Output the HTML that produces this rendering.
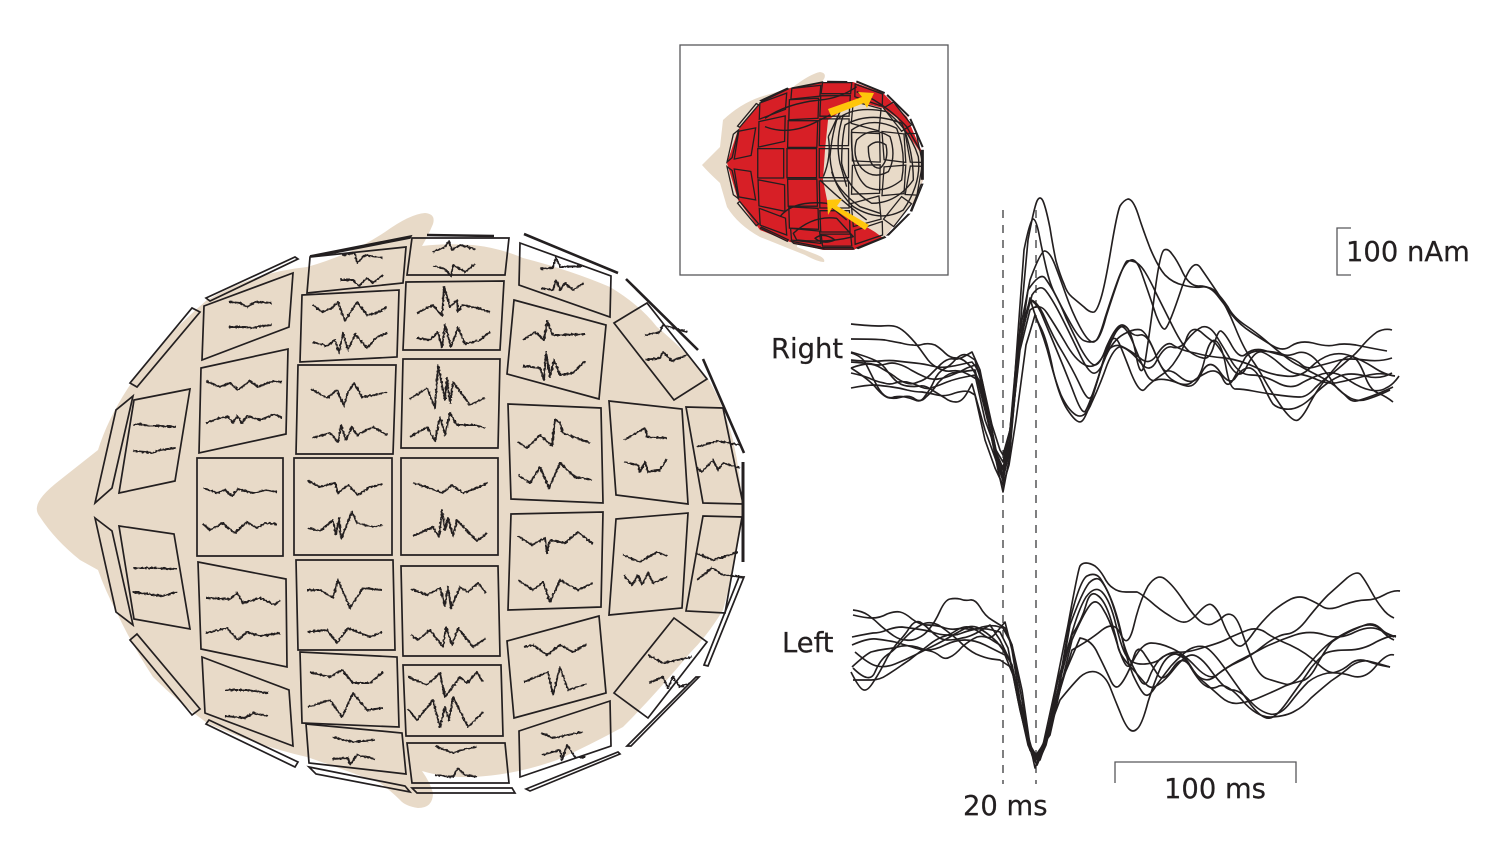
<!DOCTYPE html>
<html><head><meta charset="utf-8"><style>
html,body{margin:0;padding:0;background:#fff}
svg{display:block}
text{font-family:"DejaVu Sans","Liberation Sans",sans-serif;font-size:27.4px;fill:#231f20;stroke:#231f20;stroke-width:.25}
#panels polygon{fill:none;stroke:#231f20;stroke-width:var(--w,1.7);stroke-linejoin:miter;vector-effect:non-scaling-stroke}
#panels line{stroke:#231f20;stroke-width:var(--t,2.6);vector-effect:non-scaling-stroke}
.sq polyline{fill:none;stroke:#231f20;stroke-width:1.9;stroke-linejoin:round}
.wave path{fill:none;stroke:#231f20;stroke-width:1.65;stroke-linejoin:round;stroke-linecap:butt}
.ct path,.ct polyline{fill:none;stroke:#231f20;stroke-width:1.4;vector-effect:non-scaling-stroke;stroke-linejoin:round}
</style></head><body>
<svg width="1508" height="850" viewBox="0 0 1508 850" xmlns="http://www.w3.org/2000/svg">
<defs>
<filter id="r" filterUnits="userSpaceOnUse" x="0" y="0" width="1508" height="850" color-interpolation-filters="sRGB">
<feTurbulence type="fractalNoise" baseFrequency="0.45" numOctaves="1" seed="4"/>
<feDisplacementMap in="SourceGraphic" scale="3.2" xChannelSelector="R" yChannelSelector="G"/>
</filter>
<g id="panels">
<polygon points="95,503 116,410 133,396 112,488"/>
<polygon points="119,493 134,400 190,389 175,481"/>
<polygon points="130,383 192,308 200,312 137,387"/>
<polygon points="206,298 295,257 298,259 210,301"/>
<polygon points="204,306 293,273 289,327 202,360"/>
<polygon points="201,368 288,349 286,434 199,453"/>
<polygon points="197,458 283,458 283,556 197,556"/>
<polygon points="298,365 396,365 393,454 296,454"/>
<polygon points="294,458 392,458 392,555 294,555"/>
<polygon points="302,295 399,290 397,357 300,362"/>
<polygon points="307,293 310,257 406,247 403,283"/>
<polygon points="310,256 411,236 410,238 318,256"/>
<polygon points="412,238 509,238 505,275 407,275"/>
<line x1="427" y1="235" x2="494" y2="236"/>
<polygon points="406,282 504,281 500,350 403,350"/>
<polygon points="403,359 500,359 498,448 401,448"/>
<polygon points="401,458 498,458 498,555 401,555"/>
<polygon points="520,243 611,276 610,317 519,285"/>
<line x1="524" y1="234" x2="618" y2="273"/>
<polygon points="514,300 606,325 599,399 507,374"/>
<polygon points="614,323 647,303 707,379 674,400"/>
<line x1="626" y1="279" x2="698" y2="350"/>
<line x1="703" y1="359" x2="744" y2="453"/>
<polygon points="508,404 601,408 603,503 511,499"/>
<polygon points="609,401 682,409 688,504 616,495"/>
<polygon points="686,407 723,408 743,504 703,503"/>
<line x1="743" y1="462" x2="743" y2="562" style="stroke-width:3"/>
<polygon points="511,514 603,512 601,607 508,610"/>
<polygon points="616,519 688,513 682,608 609,615"/>
<polygon points="703,516 742,517 725,613 686,611"/>
<polygon points="401,566 498,566 500,656 403,656"/>
<polygon points="403,665 501,665 503,736 406,736"/>
<polygon points="407,743 505,743 509,783 412,783"/>
<polygon points="412,788 512,788 515,793 417,793"/>
<polygon points="507,641 599,616 606,693 514,718"/>
<polygon points="519,731 610,701 611,746 520,777"/>
<polygon points="526,789 618,752 620,754 530,791"/>
<polygon points="614,693 674,618 707,642 648,718"/>
<polygon points="627,746 696,677 699,677 631,746"/>
<polygon points="704,665 739,577 744,577 708,666"/>
<polygon points="95,518 112,531 133,625 116,612"/>
<polygon points="119,526 174,534 190,629 134,619"/>
<polygon points="137,634 200,709 192,715 130,640"/>
<polygon points="198,562 286,579 287,667 201,649"/>
<polygon points="202,657 289,690 293,746 205,713"/>
<polygon points="209,720 298,762 295,767 206,724"/>
<polygon points="296,560 393,560 395,650 298,650"/>
<polygon points="300,652 397,657 399,727 302,723"/>
<polygon points="306,724 402,733 406,774 309,763"/>
<polygon points="309,767 405,786 410,792 316,774"/>
</g>
</defs>

<!-- head -->
<path fill="#e8dac8" d="M37,507 Q38,497 60,480 L98,450 Q108,418 130,385 Q160,340 207,300 Q255,272 307,267 Q350,255 385,232 Q410,214 425,213 Q436,214 433,224 Q428,236 422,246 Q445,243 473,245 Q500,248 523,258 Q570,270 610,287 Q640,305 657,327 Q685,350 707,377 Q724,405 733,440 Q742,480 743,520 L740,533 Q733,575 723,610 Q708,635 690,653 Q655,695 623,727 Q590,745 557,760 Q515,775 473,777 Q445,778 422,771 Q430,782 433,793 Q433,808 418,808 Q405,806 400,800 Q390,790 380,783 Q345,770 307,757 Q255,745 207,723 Q178,702 153,677 Q132,645 117,613 Q105,590 98,570 L80,560 Q55,540 40,517 Q36,512 37,507 Z"/>

<use href="#panels"/>

<!-- sensor traces -->
<g class="sq" filter="url(#r)">
<polyline points="133,425 140,424 150,426 160,426 176,427"/>
<polyline points="133,451 145,452 153,453 160,450 176,448"/>
<polyline points="229,302 240,303 247,307 255,302 272,303"/>
<polyline points="229,327 245,327 252,328 262,326 272,325"/>
<polyline points="206,381 220,387 230,383 238,390 250,381 258,387 273,381 282,382"/>
<polyline points="206,423 220,418 228,417 233,423 237,416 242,423 247,416 260,420 275,414 282,418"/>
<polyline points="203,488 217,493 225,490 232,496 238,489 253,493 267,490 277,492"/>
<polyline points="203,524 210,530 223,523 228,528 235,533 247,522 257,528 265,523 277,524"/>
<polyline points="313,305 322,312 332,308 338,302 345,321 357,302 367,315 377,313 387,307"/>
<polyline points="313,342 327,346 335,340 339,353 343,333 348,350 355,334 367,348 377,337 387,333"/>
<polyline points="311,389 327,398 337,390 344,406 348,392 354,383 362,397 375,395 387,392"/>
<polyline points="312,438 330,433 338,442 341,425 346,440 352,427 357,435 373,427 387,435"/>
<polyline points="308,481 320,487 335,483 338,493 348,485 358,495 370,487 383,484"/>
<polyline points="308,528 320,531 333,520 336,535 339,518 341,539 352,512 357,523 373,527 383,525"/>
<polyline points="342,255 355,253 357,263 365,255 383,258"/>
<polyline points="340,280 353,280 359,286 367,278 373,283 383,275"/>
<polyline points="433,252 445,247 449,241 452,250 460,245 475,249"/>
<polyline points="433,266 445,269 451,276 453,265 465,272 475,264"/>
<polyline points="417,313 433,305 442,316 444,287 450,307 457,300 458,312 462,305 478,308 490,312"/>
<polyline points="417,338 430,340 438,332 442,347 445,325 451,347 458,327 465,344 480,340 490,332"/>
<polyline points="410,399 427,388 435,408 438,365 445,400 447,378 450,403 453,382 470,405 485,398"/>
<polyline points="410,437 427,427 435,441 440,417 445,435 450,413 457,425 475,425 485,428"/>
<polyline points="413,483 427,487 442,493 452,485 463,493 477,488 487,483"/>
<polyline points="413,536 433,527 439,537 442,510 445,530 448,518 453,536 457,520 477,541 487,533"/>
<polyline points="411,589 427,595 440,588 445,606 448,587 451,608 460,587 468,592 478,583 486,593"/>
<polyline points="411,635 418,640 430,630 443,647 446,627 452,645 458,628 473,647 486,638"/>
<polyline points="408,677 427,685 440,673 445,697 460,677 467,683 477,672 483,682"/>
<polyline points="408,709 417,720 433,700 440,727 445,707 449,720 453,697 468,727 483,712"/>
<polyline points="435,746 445,750 453,753 465,749 477,747"/>
<polyline points="435,775 453,777 458,768 465,775 477,777"/>
<polyline points="540,269 553,268 556,257 560,267 583,266"/>
<polyline points="541,288 553,290 556,280 560,290 565,283 573,290 584,283"/>
<polyline points="523,340 535,332 544,340 547,321 553,335 560,335 585,334"/>
<polyline points="523,366 540,368 544,380 546,352 550,377 554,360 560,375 573,373 585,361"/>
<polyline points="645,335 660,332 663,325 687,332"/>
<polyline points="645,360 660,358 663,352 672,361 687,355"/>
<polyline points="518,442 527,448 540,435 552,446 555,419 560,423 563,433 590,443"/>
<polyline points="518,475 530,483 540,467 549,488 560,463 575,477 592,480"/>
<polyline points="624,440 645,428 647,437 667,438"/>
<polyline points="624,462 638,465 640,472 645,462 648,472 660,470 667,459"/>
<polyline points="697,447 718,441 740,445"/>
<polyline points="697,468 702,472 713,460 718,470 723,463 740,468"/>
<polyline points="518,536 532,545 545,538 547,553 550,540 565,543 578,532 593,544"/>
<polyline points="518,580 533,590 543,582 550,602 560,580 578,590 593,583"/>
<polyline points="623,555 640,562 657,552 667,556"/>
<polyline points="624,575 632,585 638,575 642,585 648,573 653,583 667,577"/>
<polyline points="696,553 713,560 738,552"/>
<polyline points="697,580 712,568 723,575 743,577"/>
<polyline points="524,647 533,645 547,655 560,645 573,652 587,644"/>
<polyline points="524,682 548,672 553,695 560,667 568,690 587,684"/>
<polyline points="541,733 553,738 583,732"/>
<polyline points="542,755 560,750 562,760 567,745 575,757 585,757"/>
<polyline points="648,655 663,663 692,657"/>
<polyline points="649,683 663,677 668,688 673,677 680,687 690,683"/>
<polyline points="307,590 320,590 333,598 338,580 350,608 363,588 382,590"/>
<polyline points="307,632 327,630 337,643 348,628 370,637 382,632"/>
<polyline points="309,672 330,677 342,670 353,683 370,683 383,672"/>
<polyline points="308,707 330,700 342,717 353,693 367,710 383,708"/>
<polyline points="332,737 353,742 375,740"/>
<polyline points="332,759 348,758 350,765 357,755 375,759"/>
<polyline points="225,690 247,690 268,693"/>
<polyline points="225,716 245,718 253,713 268,716"/>
<polyline points="206,598 230,599 237,593 243,603 260,598 275,605 280,600"/>
<polyline points="206,633 227,628 238,640 247,632 260,636 280,633"/>
<polyline points="133,568 153,568 177,569"/>
<polyline points="133,592 163,596 177,592"/>
</g>

<!-- inset -->
<rect x="680" y="45" width="268" height="230" fill="#fff" stroke="#58585a" stroke-width="1.3"/>
<path fill="#e8dac8" d="M702,165 L720,147 L723,120 Q740,104 760,97 L793,87 Q810,74 820,72 Q827,73 824,79 L820,84 L800,200 L797,247 L815,254 Q826,258 824,262 Q818,262 805,255 L760,237 Q738,225 727,207 L720,183 Q708,172 702,165 Z"/>
<polygon fill="#d71f26" points="727,163 738,130 760,103 790,88 823,82 853,82 883,93 907,117 922,152 923,180 913,203 883,238 853,250 823,250 790,242 760,230 738,200"/>
<polygon fill="#e8dac8" points="828,120 840,112 863,103 883,108 897,118 910,137 922,155 923,180 913,203 883,238 875,232 850,217 827,200 823,180 825,150"/>
<g transform="translate(727,82) scale(0.3015,0.3) translate(-95,-236)" style="--w:1.3;--t:2"><use href="#panels"/></g>
<g class="ct" transform="translate(680,40) scale(.3333)">
<path d="M565,320 Q590,295 618,315 Q628,360 600,385 Q565,385 565,320 Z"/>
<path d="M530,300 Q575,255 630,290 Q650,350 625,395 Q580,420 545,385 Q515,350 530,300 Z"/>
<path d="M515,270 Q575,228 650,265 Q680,340 665,420 Q610,465 560,440 Q510,400 515,270 Z"/>
<path d="M495,255 Q570,212 665,250 Q700,330 700,420 Q650,490 575,490 Q500,445 485,370 Q485,300 495,255 Z"/>
<path d="M470,240 Q520,195 620,215 Q690,270 715,350 Q725,430 670,510 Q600,550 520,500 Q455,440 450,350 Q455,290 470,240 Z"/>
<path d="M445,290 L480,215"/>
<path d="M430,410 Q455,350 445,290"/>
<path d="M420,420 Q470,470 560,540"/>
<path d="M455,395 Q470,450 540,500 L600,520"/>
<path d="M490,225 Q465,300 480,370 L500,440"/>
<path d="M255,235 Q320,190 420,180 Q480,175 530,140"/>
<path d="M255,260 Q330,290 420,240 L470,215"/>
<path d="M300,530 Q340,480 440,490 L500,540"/>
<path d="M340,580 Q400,525 470,535 L520,590 Q440,610 350,600 Z"/>
<path d="M405,595 Q430,575 465,600 Q430,615 405,595 Z"/>
<path d="M530,155 Q610,185 680,260 L720,330"/>
</g>
<polygon fill="#ffc60b" points="828,109 862,97 858,92 874,93 867,108 864,103 831,116"/>
<polygon fill="#ffc60b" points="827,200 842,199 837,206 869,225 865,230 832,208 828,215"/>

<!-- dashed markers and scale bars -->
<g stroke="#3a3a3c" stroke-width="1.3" fill="none">
<line x1="1003" y1="210" x2="1003" y2="784" stroke-dasharray="8 7"/>
<line x1="1036" y1="210" x2="1036" y2="784" stroke-dasharray="8 7"/>
<polyline points="1351,228 1337,228 1337,275 1351,275" stroke="#58585a"/>
<polyline points="1115,783 1115,762 1296,762 1296,783" stroke="#58585a"/>
</g>

<!-- right hemisphere -->
<g class="wave">
<path d="M851,324 Q870,326 881,326 892,325 897,327 902,329 908,335 915,342 920,349 925,356 928,360 932,365 938,368 945,372 951,371 958,370 963,372 968,374 973,377 L978,380 988,420 998,466 1003,481 1009,450 1018,350 1028,240 Q1034,208 1037,201 1040,195 1043,201 1046,208 1050,228 1053,247 1056,261 1060,275 1064,284 1067,293 1072,297 1078,302 1084,307 1090,313 1094,312 1097,311 1101,298 1105,285 1111,249 1117,213 1120,206 1124,200 1128,199 1133,199 1138,214 1143,230 1150,248 1158,267 1165,275 1173,283 1183,285 1193,288 1201,287 1210,286 1216,292 1222,298 1228,307 1233,317 1245,325 1257,333 1265,340 1273,347 1283,355 1293,363 1300,366 1307,370 1317,375 1327,380 1335,386 1343,393 1348,398 1353,403 1360,400 1367,398 1377,394 1387,390 1393,387 1400,385"/>
<path d="M851,339 Q875,339 885,340 895,342 901,343 908,345 913,345 918,346 924,344 930,343 935,345 940,348 945,353 950,358 956,358 962,358 967,363 L972,368 980,382 990,430 998,470 1003,492 1009,460 1016,360 1024,250 Q1030,220 1033,219 1036,219 1039,234 1042,250 1046,267 1050,285 1056,296 1062,308 1071,324 1080,340 1085,341 1090,343 1095,341 1100,340 1106,317 1113,295 1119,278 1125,262 1127,261 1130,260 1135,262 1140,264 1145,272 1150,280 1156,293 1163,307 1173,327 1183,347 1190,352 1197,357 1203,358 1210,360 1214,345 1218,330 1221,331 1225,333 1232,346 1240,360 1246,354 1253,348 1263,350 1273,353 1285,356 1297,360 1302,365 1307,370 1318,366 1330,363 1340,360 1350,358 1365,360 1380,362 1392,358 1405,355"/>
<path d="M851,352 Q865,356 872,359 880,362 885,368 890,375 895,380 900,385 907,386 915,387 920,386 925,385 932,390 940,395 945,398 950,402 956,402 962,402 967,393 L972,384 985,430 998,466 1003,470 1010,440 1020,330 1030,280 Q1041,250 1045,251 1050,252 1055,265 1060,278 1066,295 1072,312 1080,327 1088,342 1093,342 1098,343 1105,318 1113,293 1119,277 1125,262 1131,260 1137,258 1143,277 1150,297 1156,315 1163,333 1166,328 1170,323 1181,290 1192,257 1200,267 1207,277 1217,292 1227,307 1235,327 1243,347 1250,357 1258,368 1264,379 1270,390 1281,406 1293,423 1298,420 1303,417 1310,403 1317,390 1325,380 1333,370 1341,361 1350,353 1355,358 1360,363 1365,376 1370,390 1378,393 1387,397 1393,402 1400,408"/>
<path d="M851,353 Q862,356 866,364 870,372 875,382 880,392 884,395 889,399 894,397 900,396 905,397 910,398 915,400 921,403 925,396 930,390 934,381 938,372 944,369 950,366 956,359 963,352 969,356 L975,360 982,385 992,440 1000,470 1003,478 1010,450 1018,360 1028,290 Q1040,272 1045,278 1050,285 1055,294 1060,303 1066,318 1073,333 1081,349 1090,365 1095,365 1100,365 1106,348 1113,332 1118,327 1123,322 1128,329 1133,337 1137,360 1142,383 1146,356 1150,330 1155,291 1160,253 1164,250 1168,248 1172,254 1177,260 1183,273 1190,287 1200,286 1210,286 1217,295 1225,305 1232,315 1240,325 1251,332 1263,340 1273,346 1283,352 1291,346 1300,340 1313,343 1327,347 1335,345 1343,343 1356,345 1370,348 1387,351 1405,355"/>
<path d="M851,360 Q870,362 880,361 890,360 897,361 905,362 915,363 925,364 932,366 940,368 947,367 955,366 963,364 L972,362 980,372 990,420 998,460 1003,470 1010,430 1018,350 1030,300 Q1037,300 1045,318 1053,337 1063,353 1073,370 1080,385 1087,400 1090,398 1093,397 1100,372 1107,347 1112,336 1118,325 1123,327 1128,330 1134,345 1140,360 1145,371 1150,383 1156,380 1163,378 1175,382 1187,387 1192,382 1198,377 1208,372 1218,368 1223,379 1228,390 1234,378 1240,367 1245,358 1250,350 1263,351 1277,352 1282,354 1287,357 1297,353 1307,350 1317,361 1327,373 1332,381 1337,390 1347,396 1357,403 1368,399 1380,395 1390,390 1400,385"/>
<path d="M851,362 Q865,363 872,364 880,366 886,364 892,362 898,364 905,366 911,370 918,374 925,377 932,380 938,379 945,378 952,375 960,372 967,368 L975,365 982,380 992,425 1000,450 1003,455 1010,430 1018,340 1030,300 Q1037,303 1042,315 1047,327 1057,351 1067,375 1075,396 1083,417 1086,410 1090,403 1100,372 1110,342 1116,332 1123,322 1128,329 1133,337 1140,335 1147,333 1155,353 1163,373 1167,371 1172,370 1179,376 1187,383 1193,381 1200,380 1205,358 1210,337 1216,341 1222,345 1226,367 1230,390 1236,389 1243,389 1253,391 1263,393 1278,395 1293,397 1300,397 1307,397 1315,388 1323,380 1330,375 1337,370 1347,361 1357,353 1363,345 1370,337 1377,332 1385,328 1392,330 1400,333"/>
<path d="M851,368 Q862,364 868,364 875,364 881,368 888,372 894,376 900,381 906,383 912,385 918,382 925,380 930,375 935,370 941,364 948,358 953,359 958,360 965,356 L972,352 980,370 990,420 998,462 1003,475 1010,445 1020,345 1030,298 Q1035,317 1041,328 1047,340 1053,370 1060,400 1069,412 1078,425 1082,421 1087,417 1097,382 1107,347 1111,341 1115,335 1119,343 1123,352 1131,373 1140,395 1145,389 1150,383 1160,376 1170,370 1176,360 1183,350 1187,337 1192,325 1201,332 1210,340 1214,342 1218,345 1229,364 1240,383 1247,366 1255,350 1262,352 1270,355 1280,364 1290,373 1298,374 1307,375 1318,380 1330,385 1340,382 1350,380 1365,376 1380,372 1390,375 1400,378"/>
<path d="M851,373 Q865,376 871,379 878,382 884,383 890,385 895,383 900,381 907,382 915,384 921,387 928,390 934,387 940,385 947,382 955,379 965,377 L975,375 985,420 996,450 1003,462 1010,430 1020,340 1032,295 Q1040,283 1046,291 1053,300 1063,320 1073,340 1081,357 1090,375 1095,373 1100,372 1106,356 1113,340 1124,334 1135,328 1141,330 1147,333 1155,353 1163,373 1171,379 1180,385 1187,386 1195,388 1202,372 1210,357 1220,372 1230,387 1236,377 1243,367 1250,368 1257,370 1263,385 1270,400 1273,404 1277,408 1285,409 1293,410 1300,406 1307,403 1318,391 1330,380 1340,376 1350,372 1365,376 1380,380 1392,373 1405,367"/>
<path d="M851,388 Q866,385 875,385 885,386 892,387 900,388 907,390 915,392 922,392 930,393 937,395 945,397 955,393 965,390 970,392 L975,395 985,440 995,468 1003,485 1009,465 1016,420 1026,345 1035,315 Q1045,340 1050,360 1055,380 1061,395 1068,410 1076,415 1085,420 1092,402 1100,385 1107,365 1115,345 1122,347 1130,350 1140,362 1150,375 1157,360 1165,345 1172,347 1180,350 1187,340 1195,330 1202,327 1210,325 1217,337 1225,350 1232,362 1240,375 1251,375 1263,375 1276,382 1290,390 1300,384 1310,378 1322,374 1335,370 1347,379 1360,388 1370,390 1380,392 1386,388 1393,385 1399,376 1405,367"/>
<path d="M851,368 Q870,380 877,389 885,398 890,398 895,399 902,397 910,395 915,399 921,403 926,397 932,392 938,383 945,375 952,373 960,372 967,371 L975,370 985,410 995,450 1003,468 1010,440 1020,350 1030,310 Q1040,302 1047,313 1055,325 1065,342 1075,360 1085,365 1095,370 1103,356 1112,343 1121,346 1130,350 1140,358 1150,367 1158,353 1167,340 1173,345 1180,350 1195,353 1210,357 1225,358 1240,360 1255,367 1270,375 1285,376 1300,378 1310,368 1320,358 1330,355 1340,352 1351,356 1362,360 1373,367 1385,375 1395,376 1405,378"/>

<!-- left hemisphere -->
<path d="M853,610 Q862,611 868,615 875,620 881,626 888,632 894,636 900,640 906,640 912,641 918,638 925,635 930,628 935,622 940,611 945,600 950,599 955,598 960,599 965,601 970,600 975,599 980,607 985,616 992,620 L1000,625 1005,628 1012,645 1022,690 1030,745 1035,768 1043,745 1055,690 1068,625 Q1078,570 1080,566 1082,563 1086,563 1090,563 1095,566 1100,570 1104,577 1108,585 1113,588 1118,592 1126,592 1135,592 1137,592 1140,593 1150,601 1160,610 1170,616 1180,623 1185,622 1190,622 1199,612 1208,602 1212,605 1217,608 1222,620 1227,633 1232,640 1237,647 1241,646 1245,645 1254,632 1263,620 1273,611 1283,603 1291,599 1300,595 1308,599 1317,603 1323,607 1330,611 1343,605 1357,600 1366,600 1375,600 1384,595 1393,590 1400,591 1407,592"/>
<path d="M853,615 Q865,618 872,618 880,618 887,614 895,611 900,612 905,613 912,619 920,625 927,625 935,625 942,627 950,630 956,629 962,628 968,629 975,630 982,627 990,625 996,626 L1003,628 1012,645 1022,700 1030,750 1036,760 1045,740 1058,690 1070,620 Q1080,580 1087,576 1095,572 1100,578 1105,585 1110,597 1115,610 1120,630 1125,650 1129,658 1133,667 1139,678 1145,690 1149,678 1153,667 1160,659 1168,652 1176,654 1185,657 1191,667 1197,677 1203,679 1210,682 1218,674 1227,667 1238,662 1250,657 1263,646 1277,635 1287,634 1297,633 1308,618 1320,603 1328,595 1337,587 1347,578 1357,570 1361,575 1365,580 1371,591 1377,602 1382,608 1387,615 1394,618 1402,621"/>
<path d="M852,637 Q866,634 873,633 880,633 887,630 895,627 902,627 910,628 917,629 925,630 932,632 940,635 947,635 955,636 962,633 970,630 977,629 985,628 992,630 L1000,632 1008,648 1018,700 1028,745 1037,765 1046,745 1058,695 1070,625 Q1082,592 1089,583 1097,575 1102,582 1108,590 1114,607 1120,625 1123,642 1127,660 1133,675 1140,690 1144,694 1148,698 1154,689 1160,680 1171,666 1183,653 1190,649 1198,645 1205,647 1212,650 1226,670 1240,690 1251,705 1263,720 1270,718 1277,717 1290,698 1303,680 1311,668 1320,657 1326,653 1333,650 1348,650 1363,650 1376,642 1390,635 1396,636 1402,638"/>
<path d="M852,667 Q865,655 871,652 878,650 886,649 895,648 902,646 910,645 917,647 925,650 930,651 935,652 940,656 945,660 950,657 955,655 962,647 970,640 977,637 985,635 992,640 L1000,645 1010,660 1020,710 1030,750 1036,758 1045,745 1060,690 1072,640 Q1085,610 1091,604 1097,598 1103,609 1110,620 1116,640 1122,660 1126,665 1130,670 1134,656 1138,643 1145,655 1153,667 1158,675 1163,683 1173,668 1183,653 1191,668 1200,683 1206,686 1212,690 1219,686 1227,683 1242,700 1257,718 1272,717 1287,716 1295,711 1303,707 1311,698 1320,690 1331,681 1343,673 1351,666 1360,660 1368,661 1377,663 1390,667 1402,672"/>
<path d="M851,672 Q860,690 864,690 868,691 874,681 880,672 887,658 895,645 900,640 905,635 910,627 915,620 920,622 925,625 932,632 940,640 947,640 955,640 962,638 970,637 980,631 L990,625 1000,640 1012,665 1024,725 1032,755 1037,765 1046,740 1058,680 1070,640 Q1078,610 1086,597 1095,585 1102,592 1110,600 1116,625 1122,650 1127,657 1133,665 1145,664 1157,663 1163,657 1170,652 1178,652 1187,653 1205,647 1223,642 1231,637 1240,633 1248,630 1257,627 1265,632 1273,638 1290,645 1307,653 1318,664 1330,675 1336,672 1343,670 1350,664 1357,658 1367,661 1377,665 1390,667 1402,670"/>
<path d="M853,680 Q862,680 871,680 880,680 887,675 895,670 902,665 910,660 917,654 925,648 930,644 935,640 942,637 950,635 957,630 965,625 972,628 980,632 985,636 990,640 995,634 L1000,628 1005,622 1012,650 1020,700 1030,745 1038,760 1048,735 1060,680 1072,635 Q1082,620 1086,605 1090,590 1097,595 1105,600 1111,620 1117,640 1118,647 1120,655 1129,665 1138,675 1144,682 1150,690 1156,686 1163,683 1174,669 1185,655 1192,655 1200,655 1212,672 1225,690 1232,690 1240,690 1250,701 1260,712 1270,714 1280,716 1290,703 1300,690 1308,682 1317,675 1328,673 1340,672 1352,676 1365,680 1376,666 1387,653 1394,655 1402,657"/>
<path d="M853,668 Q870,685 875,672 880,660 887,655 895,650 903,640 912,630 921,625 930,620 940,626 950,633 959,641 968,650 976,654 985,658 992,659 L1000,660 1012,668 1022,710 1030,745 1036,755 1050,735 1060,690 1072,650 Q1090,640 1102,630 1115,620 1121,635 1128,650 1134,625 1140,600 1148,586 1157,573 1165,579 1173,585 1183,600 1193,615 1200,621 1208,627 1214,623 1220,620 1224,616 1228,613 1232,615 1237,617 1242,632 1247,647 1253,662 1260,677 1268,679 1277,682 1285,684 1293,687 1306,668 1320,650 1332,641 1345,632 1359,627 1373,622 1380,629 1387,637 1394,640 1402,643"/>
<path d="M855,652 Q870,665 877,666 885,668 895,664 905,660 915,655 925,650 935,645 945,640 953,635 962,630 968,627 975,625 982,630 990,635 997,642 L1003,650 1012,665 1022,710 1032,755 1040,760 1050,730 1062,680 1080,638 Q1092,640 1098,654 1105,668 1110,679 1115,691 1120,685 1125,680 1133,661 1142,643 1151,643 1160,643 1171,648 1183,653 1196,667 1210,682 1218,674 1227,667 1238,661 1250,655 1265,647 1280,640 1295,635 1310,630 1325,635 1340,640 1355,632 1370,625 1380,630 1390,635 1396,637 1402,640"/>
<path d="M852,645 Q868,638 876,639 885,640 895,642 905,645 912,647 920,650 927,650 935,650 945,645 955,640 965,640 975,640 985,645 L995,650 1005,655 1015,680 1025,725 1035,760 1045,740 1060,700 Q1072,685 1080,677 1088,670 1096,672 1105,675 1110,687 1115,700 1120,712 1125,725 1129,729 1133,733 1137,729 1142,725 1148,702 1155,680 1161,667 1167,655 1175,654 1183,653 1190,665 1197,677 1205,683 1213,690 1221,697 1230,705 1240,703 1250,702 1263,696 1277,690 1285,686 1293,683 1301,681 1310,680 1318,663 1327,647 1332,642 1337,638 1347,633 1357,628 1365,625 1373,622 1380,628 1387,635 1394,637 1402,640"/>
</g>

<text x="771" y="358">Right</text>
<text x="782" y="652">Left</text>
<text x="963" y="815">20 ms</text>
<text x="1164" y="798">100 ms</text>
<text x="1346" y="261">100 nAm</text>
</svg>
</body></html>
